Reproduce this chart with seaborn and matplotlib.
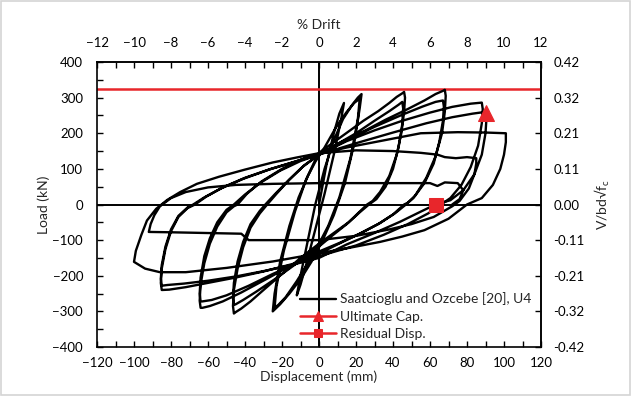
import numpy as np
import pandas as pd
import matplotlib
matplotlib.use("Agg")
import matplotlib.pyplot as plt
import seaborn as sns
from matplotlib.patches import Rectangle

# ---------------- data ----------------
series_name = "Saatcioglu and Ozcebe [20], U4"

# cycle-by-cycle displacement (mm) / load (kN) history
d1 = [0, 4, 8, 11, 13.5, 12, 8, 3, -2, -7, -10, -12, -10, -6, -2]
p1 = [0, 110, 200, 255, 285, 240, 140, 30, -70, -170, -225, -255, -200, -100, 0]

d2 = [3, 8, 13, 18, 21, 23, 22, 19, 14, 8, 2, -4, -10, -16, -21, -25, -24, -21, -16, -11, -6, -2]
p2 = [100, 180, 240, 280, 300, 310, 270, 170, 60, -30, -100, -160, -210, -250, -280, -300, -250, -160, -60, 20, 80, 120]

d3 = [3, 9, 15, 19, 22, 21, 17, 11, 5, 0, -6, -12, -18, -22, -24, -23, -19, -13, -7, -2]
p3 = [160, 215, 260, 285, 297, 240, 130, 20, -60, -110, -165, -215, -260, -282, -290, -230, -130, -20, 70, 125]

d4 = [0, 8, 16, 24, 32, 38, 42, 45, 46,
      46.5, 46, 44.5, 42, 38, 33, 29, 26, 22, 16, 8, 0,
      -10, -20, -30, -37, -42, -45, -46,
      -46.5, -46, -44, -41, -37, -32, -28, -23, -16, -8]
p4 = [145, 175, 205, 235, 262, 285, 302, 312, 316,
      300, 260, 200, 140, 80, 35, 10, 0, -20, -50, -80, -110,
      -150, -195, -240, -272, -292, -302, -306,
      -285, -240, -180, -120, -65, -25, 0, 30, 70, 110]

d5 = [0, 10, 20, 30, 38, 43, 45,
      45.5, 45, 43, 40, 36, 31, 27, 22, 15, 7, 0,
      -12, -24, -34, -41, -45, -46,
      -46.5, -46, -44, -41, -37, -32, -29, -24, -17, -9]
p5 = [140, 170, 200, 235, 262, 280, 288,
      270, 225, 160, 100, 50, 15, 0, -22, -55, -88, -118,
      -165, -210, -245, -268, -280, -282,
      -262, -220, -160, -105, -55, -18, 0, 28, 65, 105]

d6 = [0, 12, 24, 36, 48, 57, 63, 67, 68,
      68.5, 68, 66.5, 63, 58, 52, 48, 46, 40, 32, 22, 11, 0,
      -14, -28, -42, -52, -59, -63, -64,
      -64.5, -64, -62, -59, -55, -50, -46, -44, -39, -31, -20, -10]
p6 = [140, 175, 205, 238, 268, 292, 310, 319, 322,
      305, 260, 200, 135, 75, 25, 5, 0, -28, -55, -82, -108, -132,
      -168, -208, -247, -272, -285, -290, -290,
      -270, -225, -165, -110, -62, -22, -5, 0, 30, 65, 100, 125]

d7 = [0, 15, 30, 45, 56, 63, 67,
      67.5, 67, 65, 62, 57, 51, 47, 41, 33, 22, 10, 0,
      -12, -25, -38, -50, -58, -63, -64,
      -64.5, -64, -62, -59, -55, -50, -46, -40, -32, -21, -10]
p7 = [142, 180, 218, 252, 275, 288, 292,
      275, 235, 175, 115, 60, 18, 0, -25, -52, -82, -112, -138,
      -165, -195, -228, -255, -268, -272, -272,
      -250, -205, -145, -95, -50, -15, 0, 28, 60, 95, 122]

d8 = [0, 15, 30, 45, 60, 72, 82, 88,
      88.5, 88, 86, 82, 77, 71, 66, 59, 48, 35, 20, 0,
      -15, -30, -45, -60, -72, -81, -85,
      -85.5, -85, -83, -80, -76, -71, -67, -61, -52, -40, -26, -12]
p8 = [140, 178, 208, 235, 258, 274, 283, 286,
      268, 228, 165, 105, 55, 18, 0, -25, -55, -85, -115, -145,
      -168, -188, -205, -220, -232, -239, -240,
      -220, -180, -125, -75, -35, -10, 0, 22, 48, 75, 100, 122]

d9 = [0, 20, 40, 58, 72, 83, 90,
      90.5, 90, 88, 84, 78, 71, 63, 55, 44, 30, 15, 0,
      -15, -30, -45, -60, -73, -82, -85,
      -85.5, -85, -83, -80, -76, -71, -68, -62, -53, -41, -27, -13]
p9 = [140, 172, 202, 228, 245, 255, 260,
      240, 200, 140, 85, 40, 12, 0, -20, -48, -80, -112, -150,
      -170, -187, -202, -214, -222, -226, -228,
      -208, -170, -118, -70, -32, -8, 0, 20, 45, 72, 98, 120]

d10 = [0, 15, 30, 45, 55, 75, 90, 101,
       101, 100, 98, 94, 88, 80, 70, 57, 45, 33, 16, 0,
       -25, -50, -72, -86, -94, -100,
       -99, -96, -93, -88, -82, -75, -66, -54, -40, -25, -12]
p10 = [142, 160, 175, 190, 200, 203, 202, 200,
       175, 140, 100, 55, 18, 0, -40, -72, -90, -105, -122, -137,
       -160, -178, -190, -190, -180, -161,
       -130, -85, -45, -12, 13, 35, 58, 78, 98, 118, 132]

d11 = [0, 20, 40, 55, 64, 68, 74, 80, 85,
       85, 84, 81, 76, 72, 62, 50, 38, 20, 0,
       -20, -38, -42, -60, -80, -92,
       -91, -89, -86, -80, -72, -60, -45, -25, 0, 25, 45, 60, 64, 68, 75, 78, 76, 72]
p11 = [144, 152, 150, 145, 140, 133, 130, 133, 130,
       115, 85, 45, 10, -5, -35, -55, -70, -88, -100,
       -100, -100, -82, -80, -78, -77,
       -55, -30, -5, 18, 35, 48, 55, 58, 60, 60, 60, 60, 52, 62, 60, 40, 15, 0]

cycles_disp = [d1, d2, d3, d4, d5, d6, d7, d8, d9, d10, d11]
cycles_load = [p1, p2, p3, p4, p5, p6, p7, p8, p9, p10, p11]

max_load = 323            # red line (peak capacity)
ult_disp, ult_load = [90], [258]    # "Ultimate Cap."
res_disp, res_load = [63], [0]      # "Residual Disp."

drift_ticks = [-12, -10, -8, -6, -4, -2, 0, 2, 4, 6, 8, 10, 12]
right_tick_labels = ["-0.42", "-0.32", "-0.21", "-0.11", "0.00", "0.11", "0.21", "0.32", "0.42"]

# ---------------- plotting ----------------
RED = "#e8262b"
sns.set_theme(style="white")
plt.rcParams["font.family"] = ["Lato", "DejaVu Sans"]

disp = np.concatenate([np.asarray(c, float) for c in cycles_disp])
load = np.concatenate([np.asarray(c, float) for c in cycles_load])
df = pd.DataFrame({"Displacement": disp, "Load": load})

fig = plt.figure(figsize=(6.31, 3.96), dpi=100)
fig.patches.append(Rectangle((0.0015, 0.0025), 0.997, 0.995, transform=fig.transFigure,
                             fill=False, edgecolor="#d4d4d4", lw=1.2))
ax = fig.add_axes([97 / 631, 1 - 347 / 396, 444 / 631, 285 / 396])

ax.axhline(0, color="black", lw=1.4, zorder=1)
ax.axvline(0, color="black", lw=1.4, zorder=1)
ax.axhline(max_load, color=RED, lw=1.8, zorder=2)

sns.lineplot(data=df, x="Displacement", y="Load", sort=False, estimator=None,
             color="black", lw=1.7, ax=ax, label=series_name, zorder=3)
sns.lineplot(x=ult_disp, y=ult_load, marker="^", markersize=11, color=RED, lw=1.8,
             markeredgecolor=RED, ax=ax, label="Ultimate Cap.", zorder=5)
sns.lineplot(x=res_disp, y=res_load, marker="s", markersize=10, color=RED, lw=1.8,
             markeredgecolor=RED, ax=ax, label="Residual Disp.", zorder=5)

ax.set_xlim(-120, 120)
ax.set_ylim(-400, 400)
ax.set_xticks(np.arange(-120, 121, 20))
ax.set_xticks(np.arange(-120, 121, 10), minor=True)
ax.set_yticks(np.arange(-400, 401, 100))
ax.set_yticks(np.arange(-400, 401, 50), minor=True)
for s in ax.spines.values():
    s.set_color("black")
    s.set_linewidth(1.2)
ax.tick_params(axis="both", which="both", direction="in", colors="black", width=1.0,
               labelsize=9.5, bottom=True, left=True)
ax.tick_params(axis="both", which="major", length=4)
ax.tick_params(axis="both", which="minor", length=4)
ax.tick_params(axis="x", pad=7)
ax.tick_params(axis="y", pad=10)
ax.set_xlabel("Displacement (mm)", fontsize=10, labelpad=1)
ax.set_ylabel("Load (kN)", fontsize=10, labelpad=2)

# top axis: % drift
top = ax.secondary_xaxis("top", functions=(lambda d: d / 10.0, lambda p: p * 10.0))
top.set_xticks(drift_ticks)
top.set_xticks(np.arange(-12, 13, 1), minor=True)
top.tick_params(which="both", direction="in", length=4, width=1.0, labelsize=9.5, pad=9, colors="black")
top.set_xlabel("% Drift", fontsize=10, labelpad=6)

# right axis: V/bd sqrt(f'c)
k = 0.42 / 400.0
right = ax.secondary_yaxis("right", functions=(lambda L: L * k, lambda v: v / k))
right.set_yticks([k * v for v in np.arange(-400, 401, 100)])
right.set_yticklabels(right_tick_labels)
right.tick_params(direction="in", length=4, width=1.0, labelsize=9.5, pad=9, colors="black")
right.set_ylabel("V/bd\u221af$_\\mathregular{c}$", fontsize=10, labelpad=6)

h, l = ax.get_legend_handles_labels()
leg = ax.legend(h, l, loc="lower left", bbox_to_anchor=(0.445, 0.005), frameon=False,
                fontsize=10, handlelength=2.6, handletextpad=0.3, labelspacing=0.38,
                borderaxespad=0, markerscale=0.6)

fig.savefig("out.png", dpi=100)
